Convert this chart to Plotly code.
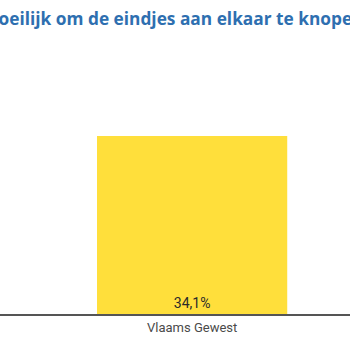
import plotly.graph_objects as go

categories = ["Vlaams Gewest"]
values = [34.1]
labels = ["34,1%"]
title_text = "Moeilijk om de eindjes aan elkaar te knopen"

fig = go.Figure(go.Bar(
    x=categories, y=values, width=[1.0],
    marker=dict(color="#FFDF3B", line=dict(width=0)),
    text=labels, textposition="inside", insidetextanchor="start",
    textfont=dict(family="Roboto", size=14, color="#2a2a2a"),
    hoverinfo="skip",
))

fig.update_layout(
    width=350, height=350,
    margin=dict(l=0, r=0, t=40, b=36),
    paper_bgcolor="white", plot_bgcolor="white",
    showlegend=False,
    title=dict(text="<b>" + title_text + "</b>", x=0.494, xanchor="center",
               y=1 - 19/350, yanchor="middle", yref="container",
               font=dict(family="Open Sans", size=17.3, color="#2E6FB0")),
    xaxis=dict(range=[-1.01, 0.83], showgrid=False, zeroline=False,
               showline=True, linecolor="#555555", linewidth=2,
               ticks="", tickfont=dict(family="Roboto", size=13, color="#4a4a4a")),
    yaxis=dict(range=[0, 52.5], visible=False),
)

fig.write_html("out.html")
